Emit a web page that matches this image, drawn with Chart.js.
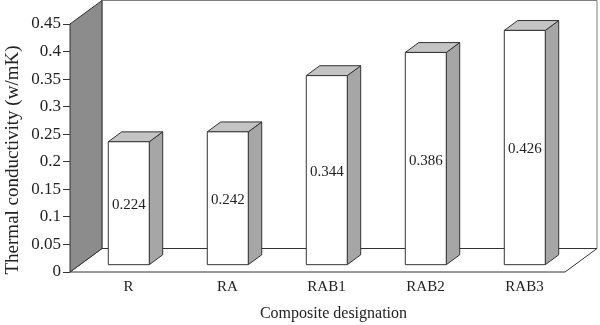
<!DOCTYPE html>
<html>
<head>
<meta charset="utf-8">
<title>Thermal conductivity</title>
<script src="https://cdn.jsdelivr.net/npm/chart.js@4.4.1/dist/chart.umd.min.js"></script>
<style>
  html, body { margin: 0; padding: 0; background: #fff; }
</style>
</head>
<body>
<canvas id="tcChart" width="600" height="325"></canvas>
<script>
// composite designations and measured conductivity (w/mK)
const designations = ['R', 'RA', 'RAB1', 'RAB2', 'RAB3'];
const conductivity = [0.224, 0.242, 0.344, 0.386, 0.426];
const yMin = 0;
const yMax = 0.45;
const yStep = 0.05;

const xTitle = 'Composite designation';
const yTitle = 'Thermal conductivity (w/mK)';

// fake 3d: depth vector of the floor, and where the boxes sit inside it
const DEPTH_X = 32;
const DEPTH_Y = -23.5;
const BOX_FRONT = 0.29;
const BOX_BACK = 0.71;

const SERIF = '"Liberation Serif", "Times New Roman", serif';
const INK = '#222';

function poly(ctx, pts, fill, stroke) {
    ctx.beginPath();
    ctx.moveTo(pts[0][0], pts[0][1]);
    for (let i = 1; i < pts.length; i++) ctx.lineTo(pts[i][0], pts[i][1]);
    ctx.closePath();
    ctx.fillStyle = fill;
    ctx.fill();
    ctx.strokeStyle = stroke;
    ctx.stroke();
}

const box3d = {
    id: 'box3d',
    beforeDatasetsDraw(chart) {
        const ctx = chart.ctx;
        const a = chart.chartArea;
        ctx.save();
        ctx.lineWidth = 1;
        // back wall
        poly(ctx, [
            [a.left + DEPTH_X, a.top + DEPTH_Y], [a.right + DEPTH_X, a.top + DEPTH_Y],
            [a.right + DEPTH_X, a.bottom + DEPTH_Y], [a.left + DEPTH_X, a.bottom + DEPTH_Y]
        ], '#fff', '#808080');
        // floor
        poly(ctx, [
            [a.left, a.bottom], [a.right, a.bottom],
            [a.right + DEPTH_X, a.bottom + DEPTH_Y], [a.left + DEPTH_X, a.bottom + DEPTH_Y]
        ], '#fff', '#333');
        // side wall
        poly(ctx, [
            [a.left, a.top], [a.left + DEPTH_X, a.top + DEPTH_Y],
            [a.left + DEPTH_X, a.bottom + DEPTH_Y], [a.left, a.bottom]
        ], '#8c8c8c', '#333');
        ctx.restore();
    },
    afterDatasetsDraw(chart) {
        const ctx = chart.ctx;
        const values = chart.data.datasets[0].data;
        const fx = DEPTH_X * BOX_FRONT, fy = DEPTH_Y * BOX_FRONT;
        const bx = DEPTH_X * BOX_BACK, by = DEPTH_Y * BOX_BACK;
        ctx.save();
        ctx.lineWidth = 1;
        chart.getDatasetMeta(0).data.forEach((bar, i) => {
            const p = bar.getProps(['x', 'y', 'base', 'width'], true);
            const l = p.x - p.width / 2, r = p.x + p.width / 2;
            // right side
            poly(ctx, [[r + fx, p.y + fy], [r + bx, p.y + by], [r + bx, p.base + by], [r + fx, p.base + fy]], '#a6a6a6', '#333');
            // top
            poly(ctx, [[l + fx, p.y + fy], [l + bx, p.y + by], [r + bx, p.y + by], [r + fx, p.y + fy]], '#c4c4c4', '#333');
            // front
            poly(ctx, [[l + fx, p.y + fy], [r + fx, p.y + fy], [r + fx, p.base + fy], [l + fx, p.base + fy]], '#fff', '#333');
            // value in the middle of the front face
            ctx.fillStyle = INK;
            ctx.font = '15px ' + SERIF;
            ctx.textAlign = 'center';
            ctx.textBaseline = 'middle';
            ctx.fillText(String(values[i]), p.x + fx, (p.y + p.base) / 2 + fy + 2);
        });
        ctx.restore();
    },
    afterDraw(chart) {
        const ctx = chart.ctx;
        const a = chart.chartArea;
        ctx.save();
        ctx.fillStyle = INK;
        ctx.font = '16px ' + SERIF;
        ctx.textAlign = 'center';
        ctx.textBaseline = 'middle';
        ctx.fillText(xTitle, (a.left + a.right + DEPTH_X) / 2, 314);
        ctx.font = '19px ' + SERIF;
        ctx.translate(13, 160);
        ctx.rotate(-Math.PI / 2);
        ctx.fillText(yTitle, 0, 0);
        ctx.restore();
    }
};

Chart.defaults.font.family = SERIF;
Chart.defaults.color = INK;

new Chart(document.getElementById('tcChart'), {
    type: 'bar',
    data: {
        labels: designations,
        datasets: [{
            data: conductivity,
            backgroundColor: 'rgba(0,0,0,0)',
            borderWidth: 0,
            barPercentage: 0.414,
            categoryPercentage: 1
        }]
    },
    options: {
        responsive: false,
        animation: false,
        layout: { padding: { top: 24, right: 35, left: 0, bottom: 0 } },
        plugins: {
            legend: { display: false },
            tooltip: { enabled: false }
        },
        scales: {
            x: {
                grid: { display: false, drawTicks: false },
                border: { display: false },
                ticks: { font: { size: 15 }, padding: 6, labelOffset: 9, maxRotation: 0 },
                afterFit(scale) { scale.height = 53; }
            },
            y: {
                min: yMin,
                max: yMax,
                grid: { drawOnChartArea: false, drawTicks: true, tickLength: 7, color: '#333' },
                border: { display: false },
                ticks: {
                    stepSize: yStep,
                    font: { size: 17 },
                    padding: 2,
                    callback: v => String(+v.toFixed(2))
                },
                afterFit(scale) { scale.width = 70; }
            }
        }
    },
    plugins: [box3d]
});
</script>
</body>
</html>
